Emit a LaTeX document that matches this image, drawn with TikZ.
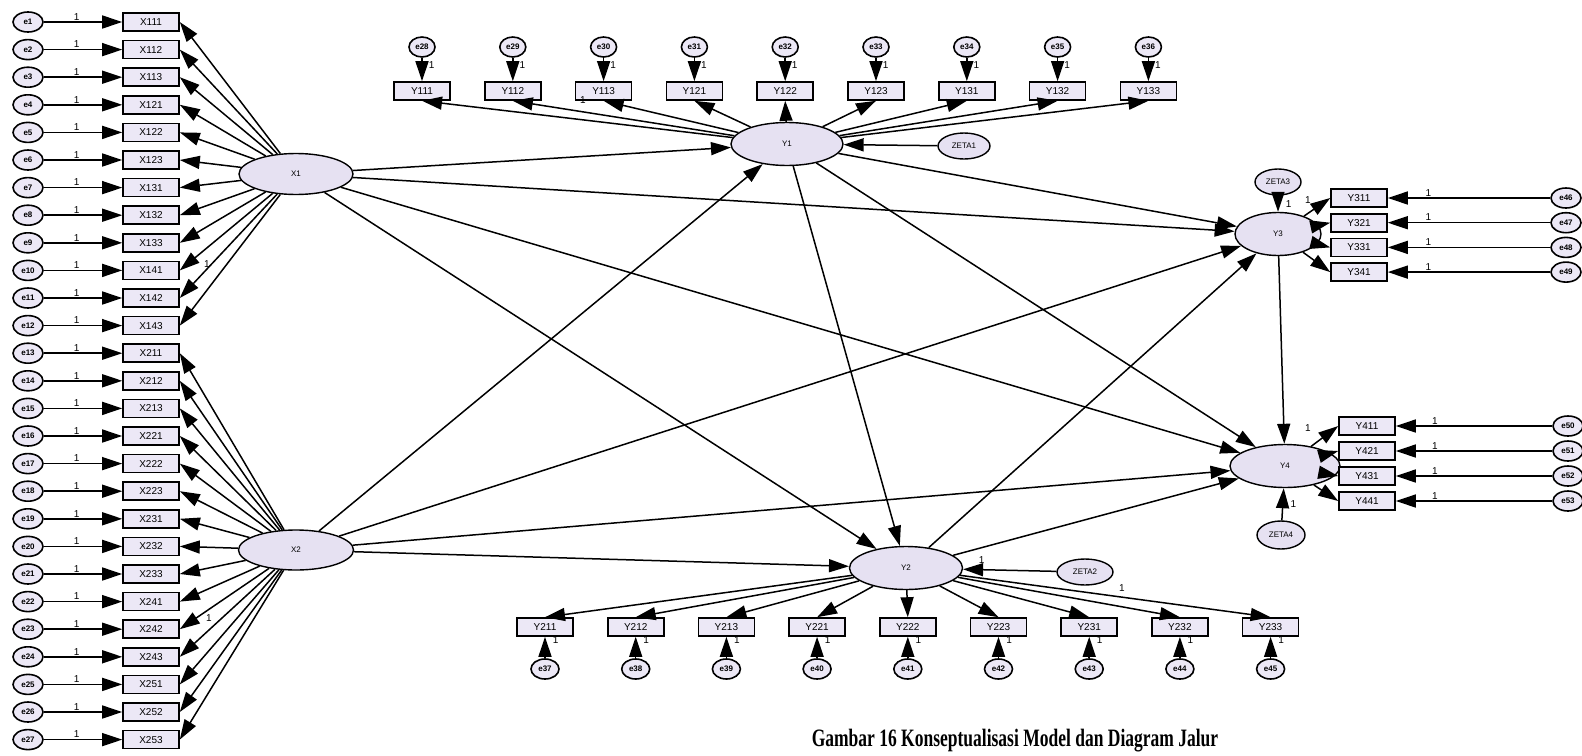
\documentclass[tikz,border=0pt]{standalone}
\usepackage{fontspec}
\setmainfont{Liberation Serif}
\setsansfont{Liberation Sans}
\usetikzlibrary{shapes.geometric,arrows.meta}
\definecolor{latfill}{RGB}{230,225,242}
\definecolor{obsfill}{RGB}{236,232,246}
\tikzset{
 lat/.style={ellipse,draw,line width=1.4pt,fill=latfill,inner sep=0pt,font=\sffamily\fontsize{8}{9}\selectfont},
 obs/.style={rectangle,draw,line width=1.6pt,fill=obsfill,minimum width=56pt,minimum height=18pt,inner sep=0pt,font=\sffamily\fontsize{10}{11}\selectfont},
 err/.style={ellipse,draw,line width=1.6pt,fill=obsfill,minimum width=30pt,minimum height=20pt,inner sep=0pt,font=\sffamily\bfseries\fontsize{8}{9}\selectfont},
 arr/.style={line width=1.5pt,-{Triangle[length=20pt,width=13pt]}},
 one/.style={font=\sffamily\fontsize{10}{11}\selectfont,inner sep=1pt},
}
\begin{document}
\begin{tikzpicture}[x=1pt,y=-1pt]
\useasboundingbox (0,0) rectangle (1582,755);
% latent variables
\node[lat,minimum width=114pt,minimum height=41pt] (X1) at (296,174) {X1};
\node[lat,minimum width=115pt,minimum height=40pt] (X2) at (296,550) {X2};
\node[lat,minimum width=112pt,minimum height=43pt] (Y1) at (787,144) {Y1};
\node[lat,minimum width=113pt,minimum height=43pt] (Y2) at (906,568) {Y2};
\node[lat,minimum width=86pt,minimum height=43pt] (Y3) at (1278,234) {Y3};
\node[lat,minimum width=110pt,minimum height=43pt] (Y4) at (1285,466) {Y4};
\node[lat,minimum width=52pt,minimum height=26pt] (Z1) at (964,146) {ZETA1};
\node[lat,minimum width=56pt,minimum height=26pt] (Z2) at (1085,572) {ZETA2};
\node[lat,minimum width=46pt,minimum height=26pt] (Z3) at (1278,182) {ZETA3};
\node[lat,minimum width=48pt,minimum height=28pt] (Z4) at (1281,535) {ZETA4};
% left column indicators
\foreach \lab [count=\i from 0] in {X111,X112,X113,X121,X122,X123,X131,X132,X133,X141,X142,X143,X211,X212,X213,X221,X222,X223,X231,X232,X233,X241,X242,X243,X251,X252,X253}{
  \pgfmathtruncatemacro\k{\i+1}
  \node[obs] (x\i) at (151,{22+27.6*\i}) {\lab};
  \node[err] (e\i) at (28,{22+27.6*\i}) {e\k};
  \draw[arr] (e\i) -- (x\i) node[one,pos=0.42,above]{1};
}
\foreach \i in {0,...,11}{\draw[arr] (X1) -- (x\i.east);}
\foreach \i in {12,...,26}{\draw[arr] (X2) -- (x\i.east);}
\node[one] (l1) at (207,264) {1};
\node[one] (l2) at (209,618) {1};
% Y1 indicators (top)
\foreach \lab [count=\i from 0] in {Y111,Y112,Y113,Y121,Y122,Y123,Y131,Y132,Y133}{
  \pgfmathtruncatemacro\k{\i+28}
  \node[obs] (t\i) at ({422+90.8*\i},91) {\lab};
  \node[err,minimum width=26pt] (te\i) at ({422+90.8*\i},47) {e\k};
  \draw[arr] (te\i) -- (t\i) node[one,pos=0.3,right,xshift=5pt]{1};
  \draw[arr] (Y1) -- (t\i.south);
}
\node[one] (l3) at (583,100) {1};
\draw[arr] (Z1) -- (Y1);
% Y2 indicators (bottom)
\foreach \lab [count=\i from 0] in {Y211,Y212,Y213,Y221,Y222,Y223,Y231,Y232,Y233}{
  \pgfmathtruncatemacro\k{\i+37}
  \node[obs] (b\i) at ({545+90.7*\i},627) {\lab};
  \node[err,minimum width=28pt] (be\i) at ({545+90.7*\i},669) {e\k};
  \draw[arr] (be\i) -- (b\i) node[one,pos=0.85,right,xshift=6pt]{1};
  \draw[arr] (Y2) -- (b\i.north);
}
\node[one] (l4) at (1122,588) {1};
\draw[arr] (Z2) -- (Y2) node[one,pos=0.8,above,yshift=4pt]{1};
% Y3 indicators
\foreach \lab [count=\i from 0] in {Y311,Y321,Y331,Y341}{
  \pgfmathtruncatemacro\k{\i+46}
  \node[obs] (r\i) at (1359,{198+24.7*\i}) {\lab};
  \node[err] (re\i) at (1566,{198+24.7*\i}) {e\k};
  \draw[arr] (re\i) -- (r\i) node[one,pos=0.75,above]{1};
  \draw[arr] (Y3) -- (r\i.west);
}
\node[one] (l5) at (1308,200) {1};
\draw[arr] (Z3) -- (Y3) node[one,pos=0.5,right,xshift=6pt]{1};
% Y4 indicators
\foreach \lab [count=\i from 0] in {Y411,Y421,Y431,Y441}{
  \pgfmathtruncatemacro\k{\i+50}
  \node[obs] (s\i) at (1367,{426+25*\i}) {\lab};
  \node[err] (se\i) at (1568,{426+25*\i}) {e\k};
  \draw[arr] (se\i) -- (s\i) node[one,pos=0.75,above]{1};
  \draw[arr] (Y4) -- (s\i.west);
}
\node[one] (l6) at (1308,428) {1};
\draw[arr] (Z4) -- (Y4) node[one,pos=0.5,right,xshift=6pt]{1};
% structural paths
\draw[arr] (X1) -- (Y1);
\draw[arr] (X1) -- (Y3);
\draw[arr] (X1) -- (Y4);
\draw[arr] (X1) -- (Y2);
\draw[arr] (X2) -- (Y1);
\draw[arr] (X2) -- (Y3);
\draw[arr] (X2) -- (Y4);
\draw[arr] (X2) -- (Y2);
\draw[arr] (Y1) -- (Y3);
\draw[arr] (Y1) -- (Y4);
\draw[arr] (Y1) -- (Y2);
\draw[arr] (Y2) -- (Y3);
\draw[arr] (Y2) -- (Y4);
\draw[arr] (Y3) -- (Y4);
% caption
\node[font=\bfseries\fontsize{25}{27}\selectfont,inner sep=0pt] (cap) at (1015,741) {\scalebox{0.7}[1]{Gambar 16 Konseptualisasi Model dan Diagram Jalur}};
\end{tikzpicture}
\end{document}
